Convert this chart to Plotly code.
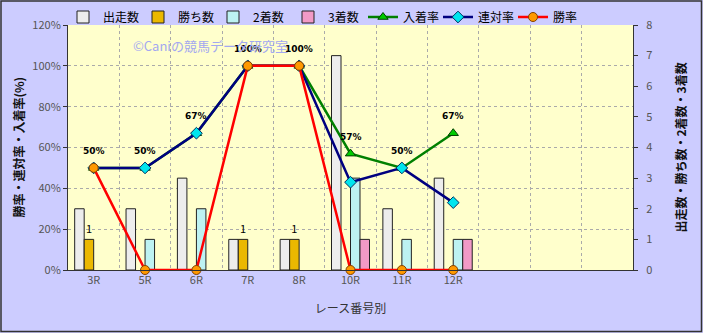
import plotly.graph_objects as go

races = ["3R", "5R", "6R", "7R", "8R", "10R", "11R", "12R"]
starts = [2, 2, 3, 1, 1, 7, 2, 3]
wins = [1, 0, 0, 1, 1, 0, 0, 0]
seconds = [0, 1, 2, 0, 0, 3, 1, 1]
thirds = [0, 0, 0, 0, 0, 1, 0, 1]
place_rate = [50, 50, 67, 100, 100, 57, 50, 67]
quinella_rate = [50, 50, 67, 100, 100, 43, 50, 33]
win_rate = [50, 0, 0, 100, 100, 0, 0, 0]

xs = list(range(len(races)))
FONT = "Noto Sans CJK JP"

fig = go.Figure()

bar_specs = [
    ("出走数", starts, "#EDEDED"),
    ("勝ち数", wins, "#EBB800"),
    ("2着数", seconds, "#BDF2F2"),
    ("3着数", thirds, "#F29AC6"),
]
for name, vals, col in bar_specs:
    kw = {}
    if name == "勝ち数":
        kw = dict(text=[str(v) if v else "" for v in vals], textposition="outside",
                  textfont=dict(size=11, color="#000", family=FONT), cliponaxis=False)
    fig.add_trace(go.Bar(x=xs, y=[v if v else None for v in vals], name=name, yaxis="y",
                         marker=dict(color=col, line=dict(color="#222", width=1)), **kw))

line_specs = [
    ("入着率", place_rate, "#008000", "triangle-up", "#00CC00", "#004000"),
    ("連対率", quinella_rate, "#000080", "diamond", "#00E5EE", "#003060"),
    ("勝率", win_rate, "#FF0000", "circle", "#FF9900", "#804000"),
]
for name, vals, lc, sym, mc, mlc in line_specs:
    fig.add_trace(go.Scatter(x=xs, y=vals, name=name, yaxis="y2", mode="lines+markers",
                             line=dict(color=lc, width=2.5),
                             marker=dict(symbol=sym, size=9, color=mc, line=dict(color=mlc, width=1)),
                             cliponaxis=False))

annotations = []
for i, v in enumerate(place_rate):
    annotations.append(dict(x=xs[i], y=v, xref="x", yref="y2", text=f"<b>{v}%</b>",
                            showarrow=False, yshift=17,
                            font=dict(size=9, color="#000", family="DejaVu Sans")))
annotations.append(dict(x=(210 - 68) / 565, y=(270 - 45) / 245, xref="paper", yref="paper",
                        xanchor="center", yanchor="middle",
                        text="©Caniの競馬データ研究室", showarrow=False,
                        font=dict(size=13, color="#A3A8F0", family=FONT)))
annotations.append(dict(x=(18 - 68) / 565, y=0.5, xref="paper", yref="paper",
                        xanchor="center", yanchor="middle",
                        text="<b>勝率・連対率・入着率(%)</b>", showarrow=False, textangle=-90,
                        font=dict(size=12, color="#111", family=FONT)))
annotations.append(dict(x=(680 - 68) / 565, y=0.5, xref="paper", yref="paper",
                        xanchor="center", yanchor="middle",
                        text="<b>出走数・勝ち数・2着数・3着数</b>", showarrow=False, textangle=-90,
                        font=dict(size=12, color="#111", family=FONT)))

fig.update_layout(
    width=703, height=333,
    margin=dict(l=68, r=70, t=25, b=63, autoexpand=False),
    paper_bgcolor="#CCCCFF", plot_bgcolor="#FFFFCC",
    barmode="group", bargap=0.26, bargroupgap=0,
    font=dict(family=FONT, size=11, color="#444"),
    showlegend=True,
    legend=dict(orientation="h", x=-5 / 565, xanchor="left", y=(270 - 17) / 245, yanchor="middle",
                bgcolor="rgba(0,0,0,0)", font=dict(size=12, color="#000", family=FONT),
                entrywidth=30, entrywidthmode="pixels", itemwidth=30, tracegroupgap=0),
    xaxis=dict(range=[-0.5, 10.5], tickmode="array", tickvals=xs, ticktext=races,
               showgrid=False, zeroline=False, showline=True, linecolor="#333", linewidth=1,
               ticks="", tickfont=dict(size=11, color="#555"),
               title=dict(text="レース番号別", font=dict(size=12, color="#333"), standoff=18),
               minor=dict(tickmode="array", tickvals=[i + 0.5 for i in range(10)], showgrid=True,
                          gridcolor="#AAAAAA", griddash="dot", gridwidth=1)),
    yaxis=dict(range=[0, 8], dtick=1, side="right", showgrid=False, zeroline=False,
               showline=True, linecolor="#333", ticks="outside", ticklen=4, tickcolor="#333",
               tickfont=dict(size=11, color="#555"), ticklabelstandoff=6),
    yaxis2=dict(range=[0, 120], dtick=20, ticksuffix="%", side="left", overlaying="y",
                showgrid=True, gridcolor="#AAAAAA", griddash="dot", gridwidth=1, zeroline=False,
                showline=True, linecolor="#333", ticks="outside", ticklen=4, tickcolor="#333",
                tickfont=dict(size=11, color="#555")),
    annotations=annotations,
    shapes=[dict(type="rect", xref="paper", yref="paper",
                 x0=(1 - 68) / 565, x1=(701.5 - 68) / 565, y0=(270 - 331.5) / 245, y1=(270 - 1) / 245,
                 line=dict(color="#333", width=1.5), fillcolor="rgba(0,0,0,0)", layer="above")],
)

fig.write_html("out.html")
